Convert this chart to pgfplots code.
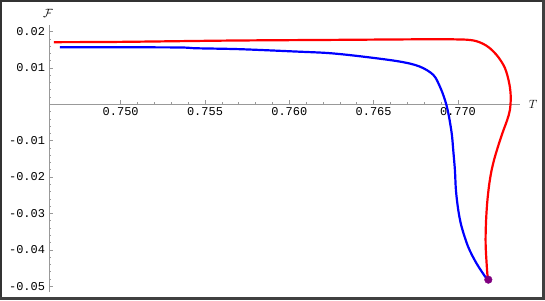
\documentclass[border=0pt]{standalone}
\usepackage{pgfplots}
\pgfplotsset{compat=1.18}
\usepackage{fontspec}
\setmonofont{Liberation Mono}
\begin{document}
\begin{tikzpicture}[x=1bp,y=1bp]
\useasboundingbox (0,0) rectangle (545,300);
\fill[white] (0,0) rectangle (545,300);
\begin{axis}[
  at={(49bp,8bp)}, anchor=south west, scale only axis,
  width=471bp, height=267bp,
  xmin=0.74575, xmax=0.77368, ymin=-0.0516, ymax=0.0218,
  axis x line=middle, axis y line=left,
  scaled x ticks=false, scaled y ticks=false,
  axis line style={-, draw=black!40, line width=0.8bp},
  every tick/.style={draw=black!40, line width=0.6bp},
  tick align=inside,
  major tick length=4bp, minor tick length=2bp,
  xtick={0.750,0.755,0.760,0.765,0.770},
  xticklabels={0.750,0.755,0.760,0.765,0.770},
  minor x tick num=4,
  ytick={-0.05,-0.04,-0.03,-0.02,-0.01,0.01,0.02},
  yticklabels={-0.05,-0.04,-0.03,-0.02,-0.01,0.01,0.02},
  minor ytick={-0.05,-0.048,...,0.0201},
  ticklabel style={font=\ttfamily\fontsize{12}{12}\selectfont, text=black},
  xticklabel style={yshift=0bp},
  yticklabel style={xshift=-0.5bp},
  xlabel={$T$}, ylabel={$\mathcal{F}$},
  xlabel style={at={(axis description cs:1.028,0.703)}, anchor=center, font=\fontsize{12}{12}\selectfont\bfseries},
  ylabel style={at={(axis description cs:-0.002,1.045)}, anchor=center, rotate=-90, font=\fontsize{13}{13}\selectfont},
  clip=false,
]
\addplot[red, line width=2.2bp, smooth, tension=0.55] coordinates {
(0.74604,0.01708) (0.74996,0.01716) (0.75648,0.01752) (0.76241,0.01770)
(0.76834,0.01788) (0.77012,0.01782) (0.77071,0.01768) (0.77110,0.01735)
(0.77150,0.01660) (0.77189,0.01543)
(0.77237,0.01311) (0.77279,0.00992) (0.77304,0.00579) (0.77313,0.00209)
(0.77308,-0.00157) (0.77292,-0.00430) (0.77270,-0.00710) (0.77250,-0.00980)
(0.77231,-0.01260) (0.77214,-0.01530) (0.77197,-0.01870) (0.77184,-0.02250)
(0.77173,-0.02727) (0.77166,-0.03278) (0.77164,-0.03829)
(0.77170,-0.04380) (0.77176,-0.04750) (0.77180,-0.04821)
};
\addplot[blue, line width=2.2bp, smooth, tension=0.55] coordinates {
(0.74640,0.01570) (0.75000,0.01567) (0.75350,0.01562) (0.75450,0.01540) (0.75707,0.01515)
(0.76045,0.01449) (0.76241,0.01405) (0.76436,0.01311) (0.76656,0.01174)
(0.76774,0.01036) (0.76854,0.00807) (0.76893,0.00485) (0.76923,0.00118)
(0.76943,-0.00248) (0.76963,-0.00799) (0.76972,-0.01259) (0.76982,-0.01810)
(0.76988,-0.02361) (0.77002,-0.02912) (0.77022,-0.03372) (0.77061,-0.03923)
(0.77111,-0.04380) (0.77170,-0.04794) (0.77180,-0.04821)
};
\addplot[only marks, mark=*, mark size=3.8bp, color={rgb,1:red,0.5;green,0;blue,0.5}] coordinates {(0.77180,-0.04821)};
\end{axis}
\draw[line width=2bp, black!80] (1,1) rectangle (544,299);
\draw[line width=3bp, black!75] (543.5,300) -- (543.5,1.5) -- (0,1.5);
\end{tikzpicture}
\end{document}
